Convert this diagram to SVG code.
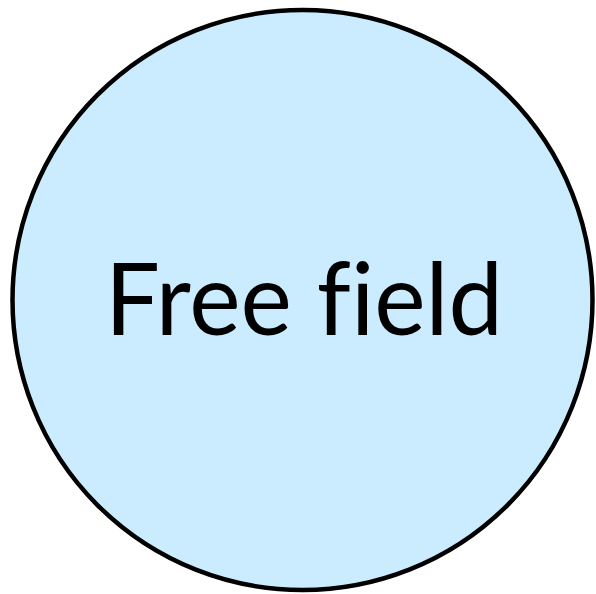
<svg xmlns="http://www.w3.org/2000/svg" width="596" height="594" viewBox="0 0 596 594">
<style>
.node{fill:#cbebff;stroke:#000;stroke-width:4.5}
.lbl{font-family:Lato,"Liberation Sans",sans-serif;font-size:100px;fill:#000;text-anchor:middle;font-variant-ligatures:none;font-feature-settings:"liga" 0}
</style>
<rect width="596" height="594" fill="#fff"/>
<g id="free-field">
<circle class="node" cx="302.5" cy="300" r="290"/>
<text class="lbl" x="304" y="335" textLength="398" lengthAdjust="spacingAndGlyphs">Free field</text>
</g>
<g id="connectors"/>
</svg>
